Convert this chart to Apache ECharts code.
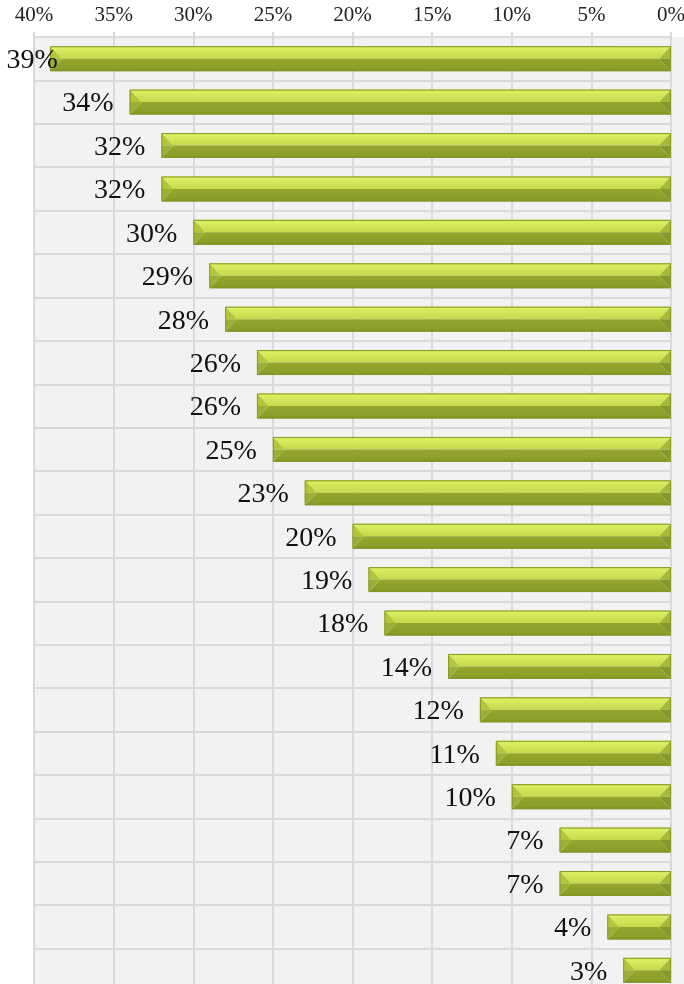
<!DOCTYPE html>
<html><head><meta charset="utf-8">
<script src="https://cdn.jsdelivr.net/npm/echarts@6/dist/echarts.min.js"></script>
<style>html,body{margin:0;padding:0;background:#fff}#c{width:684px;height:984px}</style>
</head><body><div id="c"></div>
<script>
const categories = ['A','B','C','D','E','F','G','H','I','J','K','L','M','N','O','P','Q','R','S','T','U','V'];
const values = [39,34,32,32,30,29,28,26,26,25,23,20,19,18,14,12,11,10,7,7,4,3];
const tickMin = 0, tickMax = 40, tickStep = 5;

const labelData = values.map(v => v >= 38 ? {value: v, label: {offset: [24, 2]}} : v);
const shapeData = values.map((v, i) => [i, v]);

function renderBevelBar(params, api) {
  const idx = api.value(0), v = api.value(1);
  const pa = api.coord([0, idx]), pb = api.coord([v, idx]);
  const x0 = Math.min(pa[0], pb[0]), x1 = Math.max(pa[0], pb[0]);
  const h = 25, cy = pa[1];
  const y0 = cy - h / 2, y1 = cy + h / 2, ym = cy;
  const b = Math.min(12, (x1 - x0) / 2);
  const poly = (pts, fill) => ({type: 'polygon', shape: {points: pts}, style: {fill: fill}});
  return {
    type: 'group',
    children: [
      poly([[x0, y0], [x1, y0], [x1 - b, ym], [x0 + b, ym]],
        {type: 'linear', x: 0, y: 0, x2: 0, y2: 1, colorStops: [
          {offset: 0, color: '#c4d64a'}, {offset: 0.15, color: '#dcee62'}, {offset: 0.5, color: '#d2e458'}, {offset: 1, color: '#c6d84c'}]}),
      poly([[x0 + b, ym], [x1 - b, ym], [x1, y1], [x0, y1]],
        {type: 'linear', x: 0, y: 0, x2: 0, y2: 1, colorStops: [
          {offset: 0, color: '#94a62d'}, {offset: 0.8, color: '#8c9d2a'}, {offset: 1, color: '#77881f'}]}),
      poly([[x0, y0], [x0 + b, ym], [x0, ym]], '#b2c63a'),
      poly([[x0, ym], [x0 + b, ym], [x0, y1]], '#9caf32'),
      poly([[x1, y0], [x1, ym], [x1 - b, ym]], '#a6ba34'),
      poly([[x1, ym], [x1, y1], [x1 - b, ym]], '#86982a'),
      {type: 'rect', shape: {x: x0 + 0.5, y: y0 + 0.5, width: x1 - x0 - 1, height: h - 1},
        style: {fill: null, stroke: '#889a26', lineWidth: 1}}
    ]
  };
}

const chart = echarts.init(document.getElementById('c'));
chart.setOption({
  animation: false,
  graphic: [{type: 'rect', z: -10, shape: {x: 35, y: 37, width: 649, height: 960}, style: {fill: '#f2f2f2'}}],
  grid: {left: 34, right: 13, top: 37, height: 955, containLabel: false, outerBoundsMode: 'none'},
  xAxis: {
    type: 'value', position: 'top', inverse: true,
    min: tickMin, max: tickMax, interval: tickStep,
    axisLabel: {formatter: v => v + '%', fontFamily: 'Liberation Serif', fontSize: 21, color: '#222', margin: 11},
    axisLine: {show: true, lineStyle: {color: '#d9d9d9', width: 2}},
    axisTick: {show: true, length: 5, lineStyle: {color: '#d9d9d9', width: 2}},
    splitLine: {show: true, lineStyle: {color: '#d9d9d9', width: 2}}
  },
  yAxis: {
    type: 'category', data: categories, inverse: true,
    axisLabel: {show: false}, axisTick: {show: false},
    axisLine: {show: false},
    splitLine: {show: true, lineStyle: {color: '#d9d9d9', width: 2}}
  },
  series: [
    {type: 'custom', data: shapeData, encode: {x: 1, y: 0}, renderItem: renderBevelBar, z: 2},
    {
      type: 'bar', data: labelData, barWidth: 25, z: 3,
      itemStyle: {color: 'rgba(0,0,0,0)'},
      label: {show: true, position: 'left', distance: 16, offset: [0, 2], formatter: p => p.value + '%',
        fontFamily: 'Liberation Serif', fontSize: 28, color: '#111'}
    }
  ]
});
</script></body></html>
